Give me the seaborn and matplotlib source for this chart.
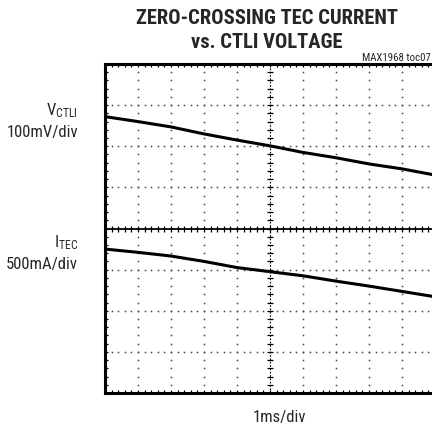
import numpy as np
import pandas as pd
import matplotlib
matplotlib.use("Agg")
import matplotlib.pyplot as plt
from matplotlib import font_manager as fm
import seaborn as sns

# ---- data (in screen divisions) ----
time_div = [0, 1, 2, 3, 4, 5, 6, 7, 8, 9, 10]
vctli_div = [2.72, 2.60, 2.47, 2.30, 2.15, 2.01, 1.85, 1.72, 1.57, 1.45, 1.30]
itec_div = [-0.50, -0.58, -0.67, -0.80, -0.95, -1.05, -1.15, -1.28, -1.40, -1.53, -1.66]

title_lines = ["ZERO-CROSSING TEC CURRENT", "vs. CTLI VOLTAGE"]
note = "MAX1968 toc07"
ch1_label = ["$\\mathregular{V_{CTLI}}$", "100mV/div"]
ch2_label = ["$\\mathregular{I_{TEC}}$", "500mA/div"]
x_label = "1ms/div"

sns.set_theme(style="white")

# pick a narrow font if one is installed
names = {f.name: f for f in fm.fontManager.ttflist}
stretches = {}
for f in fm.fontManager.ttflist:
    stretches.setdefault(f.name, set()).add(str(f.stretch))
narrow = None
for cand in ['Liberation Sans Narrow', 'Roboto Condensed', 'Open Sans Condensed',
             'DejaVu Sans Condensed', 'Arial Narrow', 'Nimbus Sans Narrow']:
    if cand in names:
        narrow = cand
        break
stretch = 'normal'
if narrow is None:
    for nm in ['DejaVu Sans', 'Open Sans', 'Roboto', 'Noto Sans']:
        st = stretches.get(nm, set())
        if any(s in ('condensed', 'semi-condensed', '75', '87.5', 'semi-expanded') or s.isdigit() and int(s) < 500 for s in st):
            narrow = nm
            stretch = 'condensed'
            break
if narrow is None:
    narrow = 'Liberation Sans'
    scale = 0.82
else:
    scale = 1.0

plt.rcParams['font.family'] = [narrow, 'Liberation Sans', 'DejaVu Sans']
plt.rcParams['font.stretch'] = stretch
plt.rcParams['mathtext.fontset'] = 'custom'
plt.rcParams['mathtext.rm'] = narrow

W, H = 432, 427
fig = plt.figure(figsize=(W / 100, H / 100), dpi=100)
left, top, bottom, right = 105, 65, 394, 435
ax = fig.add_axes([left / W, 1 - bottom / H, (right - left) / W, (bottom - top) / H])
ax.set_xlim(0, 10)
ax.set_ylim(-4, 4)

# graticule dots
dot_x = np.arange(0, 10.001, 0.2)
dot_y = np.arange(-4, 4.001, 0.2)
dot_kw = dict(ls='none', marker='s', ms=1.1, color='#444444', mew=0)
for yy in [-3, -2, -1, 1, 2, 3]:
    ax.plot(dot_x, np.full_like(dot_x, yy), **dot_kw)
for xx in [1, 2, 3, 4, 6, 7, 8, 9]:
    ax.plot(np.full_like(dot_y, xx), dot_y, **dot_kw)

# centre cross with ticks
ax.axhline(0, color='black', lw=1.3)
ax.axvline(5, color='black', lw=0.8, ls=(0, (1.5, 1.5)))
ax.plot(dot_x, np.zeros_like(dot_x), ls='none', marker='|', ms=5, mew=0.9, color='black')
ax.plot(np.full_like(dot_y, 5), dot_y, ls='none', marker='_', ms=5, mew=0.9, color='black')

# traces
df = pd.DataFrame({"t": time_div * 2,
                   "v": vctli_div + itec_div,
                   "ch": ["V"] * len(time_div) + ["I"] * len(time_div)})
sns.lineplot(data=df, x="t", y="v", hue="ch", palette={"V": "black", "I": "black"},
             linewidth=2.2, legend=False, ax=ax, estimator=None, sort=False)

# frame
for s in ['left', 'top', 'bottom']:
    ax.spines[s].set_visible(True)
    ax.spines[s].set_linewidth(2.2)
    ax.spines[s].set_color('black')
ax.spines['right'].set_visible(False)
ax.set_xticks(np.arange(0, 10.001, 1))
ax.set_yticks(np.arange(-4, 4.001, 1))
ax.set_xticks(dot_x, minor=True)
ax.set_yticks(dot_y, minor=True)
ax.tick_params(which='both', direction='in', length=2, width=0.9, color='black',
               top=True, bottom=True, left=True, right=False,
               labelbottom=False, labelleft=False)
ax.set_xlabel("")
ax.set_ylabel("")

# texts
fs_t = 14.8 * scale
fs_l = 12.0 * scale
fig.text(267 / W, 1 - 19 / H, title_lines[0], ha='center', va='center',
         fontsize=fs_t, fontweight='bold')
fig.text(267 / W, 1 - 43 / H, title_lines[1], ha='center', va='center',
         fontsize=fs_t, fontweight='bold')
fig.text(431 / W, 1 - 58 / H, note, ha='right', va='center', fontsize=7.8 * scale)
fig.text(78 / W, 1 - 111 / H, ch1_label[0], ha='right', va='center', fontsize=fs_l)
fig.text(78 / W, 1 - 133 / H, ch1_label[1], ha='right', va='center', fontsize=fs_l)
fig.text(78 / W, 1 - 243 / H, ch2_label[0], ha='right', va='center', fontsize=fs_l)
fig.text(78 / W, 1 - 265 / H, ch2_label[1], ha='right', va='center', fontsize=fs_l)
fig.text(280 / W, 1 - 418 / H, x_label, ha='center', va='center', fontsize=fs_l)

fig.savefig("out.png", dpi=100)
